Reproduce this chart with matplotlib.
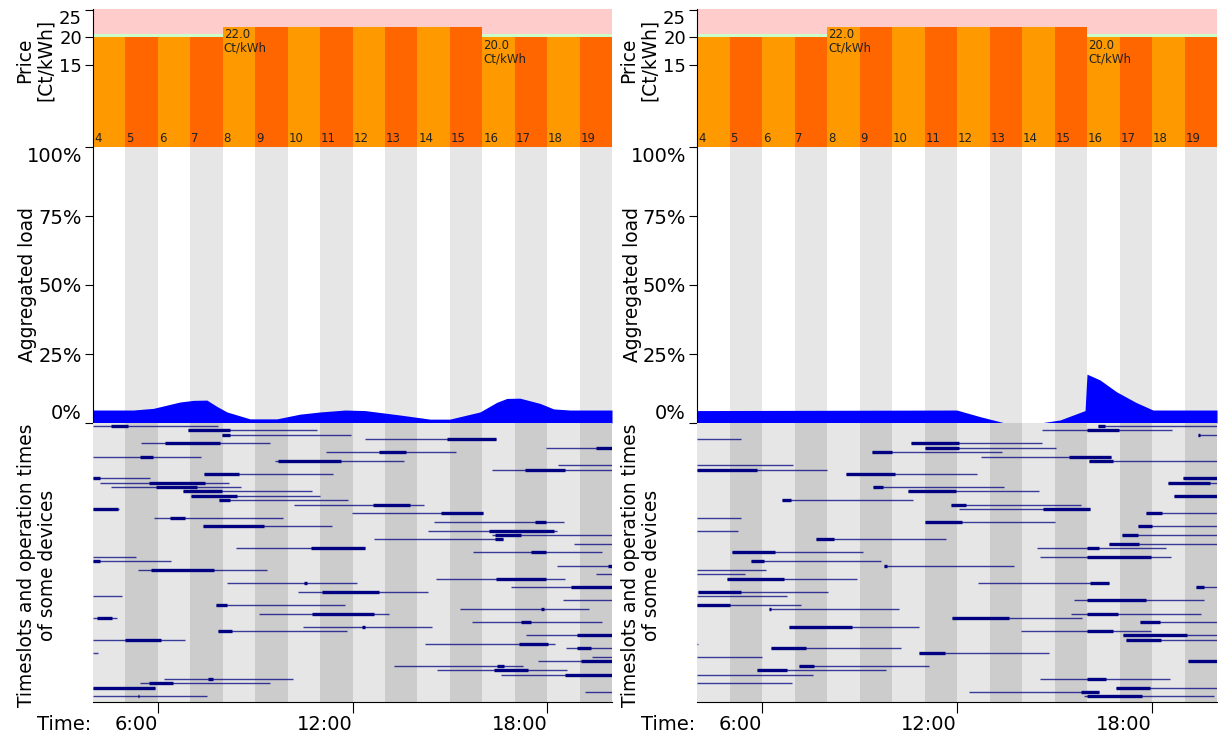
import matplotlib.pyplot as plt

# hourly price slots (same tariff in both scenarios)
slot_hours = list(range(4, 20))
price_ct = [20, 20, 20, 20, 22, 22, 22, 22, 22, 22, 22, 22, 20, 20, 20, 20]

# aggregated load in percent (hour, %)
load_left_h = [4.0, 5.24, 5.86, 6.68, 7.09, 7.51, 7.82, 8.13, 8.84, 9.67, 10.38,
               11.0, 11.77, 12.38, 13.46, 14.39, 15.0, 15.93, 16.45, 16.76,
               17.16, 17.78, 18.2, 18.7, 20.0]
load_left = [4.7, 4.7, 5.3, 7.6, 8.2, 8.3, 6.0, 4.0, 1.5, 1.5, 3.2,
             4.0, 4.7, 4.5, 2.9, 1.4, 1.4, 4.0, 7.5, 8.9,
             9.0, 7.1, 5.1, 4.7, 4.7]

load_right_h = [4.0, 8.0, 11.99, 12.71, 13.48, 14.55, 15.17, 15.94, 16.0,
                16.4, 16.91, 17.5, 18.03, 20.0]
load_right = [4.5, 4.6, 4.7, 2.3, 0.0, 0.0, 1.1, 4.5, 17.7,
              15.6, 11.3, 7.5, 4.7, 4.7]

# devices: (row, window start, window end, run start, run end)
devices_left = [
    (0, 4.00, 7.86, 4.55, 5.07), (1, 6.94, 10.92, 6.94, 8.22),
    (2, 7.97, 11.96, 7.97, 8.22), (3, 12.38, 16.41, 14.92, 16.41),
    (4, 5.47, 9.46, 6.21, 7.93), (5, 17.95, 20.0, 19.51, 20.0),
    (6, 11.19, 15.19, 12.81, 13.65), (7, 4.00, 7.33, 5.44, 5.84),
    (8, 9.60, 13.59, 9.70, 11.66), (9, 18.35, 20.0, None, None),
    (10, 16.29, 20.0, 17.31, 18.54), (11, 7.41, 11.40, 7.41, 8.51),
    (12, 4.00, 5.77, 4.00, 4.23), (13, 4.21, 8.20, 5.74, 7.46),
    (14, 4.57, 8.56, 5.94, 7.21), (15, 6.77, 10.76, 6.77, 7.99),
    (16, 7.01, 11.00, 7.01, 8.43), (17, 7.87, 11.86, 7.87, 8.22),
    (18, 10.19, 14.19, 12.62, 13.76), (19, 4.00, 4.79, 4.00, 4.77),
    (20, 11.99, 16.01, 14.72, 16.01), (21, 5.87, 9.85, 6.36, 6.84),
    (22, 14.52, 18.51, 17.64, 17.97), (23, 7.38, 11.37, 7.38, 9.26),
    (24, 14.32, 18.30, 16.21, 18.20), (25, 16.29, 20.0, 16.38, 17.21),
    (26, 12.67, 16.65, 16.38, 16.65), (27, 18.84, 20.0, None, None),
    (28, 8.40, 12.37, 10.73, 12.37), (29, 15.71, 19.70, 17.50, 17.97),
    (30, 4.00, 5.34, None, None), (31, 4.00, 6.40, 4.00, 4.23),
    (32, 18.31, 20.0, 19.87, 20.0), (33, 5.38, 9.37, 5.78, 7.72),
    (34, 19.50, 20.0, None, None), (35, 14.56, 18.54, 16.41, 17.95),
    (36, 8.14, 12.13, 10.50, 10.59), (37, 16.88, 20.0, 18.75, 20.0),
    (38, 10.33, 14.32, 11.07, 12.81), (39, 4.00, 4.88, None, None),
    (40, 18.50, 20.0, None, None), (41, 7.78, 11.76, 7.78, 8.14),
    (42, 15.31, 19.30, 17.81, 17.90), (43, 9.13, 13.11, 10.76, 12.67),
    (44, 4.00, 4.73, 4.11, 4.60), (45, 15.67, 19.68, 17.21, 17.50),
    (46, 10.47, 14.46, 12.30, 12.38), (47, 7.84, 11.82, 7.84, 8.30),
    (48, 17.34, 20.0, 18.93, 20.0), (49, 4.00, 6.84, 4.98, 6.11),
    (50, 14.25, 18.23, 17.12, 18.04), (51, 18.57, 20.0, 18.91, 19.34),
    (52, 4.00, 4.15, None, None), (53, 19.39, 20.0, None, None),
    (54, 17.71, 20.0, 19.04, 20.0), (55, 13.27, 17.26, 16.47, 16.68),
    (56, 14.62, 18.60, 16.35, 17.41), (57, 16.59, 20.0, 18.56, 20.0),
    (58, 6.19, 10.18, 7.55, 7.71), (59, 5.46, 9.45, 5.74, 6.47),
    (60, 4.00, 5.91, 4.00, 5.91), (61, 19.17, 20.0, None, None),
    (62, 4.00, 7.50, 5.39, 5.43),
]

devices_right = [
    (0, 16.34, 20.0, 16.34, 16.55), (1, 14.60, 18.62, 16.00, 16.98),
    (2, 19.42, 20.0, 19.42, 19.47), (3, 4.00, 5.35, None, None),
    (4, 10.59, 14.60, 10.59, 12.07), (5, 11.03, 15.04, 11.03, 12.07),
    (6, 9.37, 13.37, 9.37, 10.00), (7, 12.74, 16.74, 15.46, 16.74),
    (8, 16.05, 20.0, 16.05, 16.80), (9, 4.00, 6.96, None, None),
    (10, 4.00, 8.00, 4.00, 5.84), (11, 8.59, 12.61, 8.59, 10.10),
    (12, 18.94, 20.0, 18.94, 20.0), (13, 18.48, 20.0, 18.48, 19.79),
    (14, 9.42, 13.44, 9.42, 9.73), (15, 10.50, 14.51, 10.50, 11.98),
    (16, 18.67, 20.0, 18.67, 20.0), (17, 6.63, 10.64, 6.63, 6.89),
    (18, 11.80, 15.81, 11.80, 12.27), (19, 12.07, 16.08, 14.66, 16.08),
    (20, 17.81, 20.0, 17.81, 18.31), (21, 4.00, 5.35, None, None),
    (22, 11.01, 15.01, 11.01, 12.16), (23, 17.57, 20.0, 17.57, 18.00),
    (24, 4.00, 5.26, None, None), (25, 17.07, 20.0, 17.07, 17.58),
    (26, 7.67, 11.66, 7.67, 8.20), (27, 16.67, 20.0, 16.67, 17.60),
    (28, 14.45, 18.43, 16.00, 16.37), (29, 5.09, 9.10, 5.09, 6.39),
    (30, 14.56, 18.57, 16.00, 17.98), (31, 5.66, 9.66, 5.66, 6.06),
    (32, 9.76, 13.76, 9.76, 9.84), (33, 4.00, 6.13, None, None),
    (34, 4.00, 5.48, None, None), (35, 4.93, 8.92, 4.93, 6.67),
    (36, 12.64, 16.67, 16.08, 16.67), (37, 19.35, 20.0, 19.35, 19.61),
    (38, 4.02, 8.03, 4.02, 5.35), (39, 4.00, 6.77, None, None),
    (40, 15.60, 19.60, 16.00, 17.81), (41, 4.00, 7.20, 4.00, 5.00),
    (42, 6.20, 10.20, 6.20, 6.28), (43, 15.50, 19.51, 16.00, 16.94),
    (44, 11.84, 15.84, 11.84, 13.61), (45, 17.64, 20.0, 17.64, 18.24),
    (46, 6.82, 10.83, 6.82, 8.76), (47, 13.97, 17.98, 16.00, 16.80),
    (48, 17.10, 20.0, 17.10, 19.08), (49, 17.21, 20.0, 17.21, 18.28),
    (50, 4.00, 4.04, None, None), (51, 6.29, 10.29, 6.29, 7.36),
    (52, 10.84, 14.83, 10.84, 11.63), (53, 4.00, 5.99, None, None),
    (54, 19.11, 20.0, 19.11, 20.0), (55, 7.15, 11.14, 7.15, 7.60),
    (56, 5.84, 9.83, 5.84, 6.77), (57, 4.00, 7.57, None, None),
    (58, 14.56, 18.55, 16.00, 16.59), (59, 4.00, 6.91, None, None),
    (60, 16.88, 20.0, 16.88, 17.93), (61, 12.37, 16.38, 15.83, 16.38),
    (62, 15.91, 19.90, 16.00, 17.69),
]

time_ticks = [6, 12, 18]
time_labels = ['6:00', '12:00', '18:00']

W, H = 1219, 733
fig = plt.figure(figsize=(W / 100, H / 100), dpi=100)
FS = 14
LFS = 13.4


def px_axes(x0, x1, y0, y1):
    return fig.add_axes([x0 / W, 1 - y1 / H, (x1 - x0) / W, (y1 - y0) / H])


def style_left(ax, size=FS):
    for s in ['top', 'right', 'bottom']:
        ax.spines[s].set_visible(False)
    ax.spines['left'].set_linewidth(0.8)
    ax.tick_params(axis='y', direction='out', length=6, width=0.8, pad=2, labelsize=size)
    ax.set_xticks([])


def panel(x0, x1, load_h, load, devices):
    # price
    ax = px_axes(x0, x1, 9, 147)
    ax.set_facecolor('#FFCCCC')
    low = min(price_ct)
    bar_cols = ['#FF9900' if i % 2 == 0 else '#FF6600' for i in range(len(slot_hours))]
    for h, p in zip(slot_hours, price_ct):
        if p == low:
            ax.bar(h, 0.7, bottom=p, width=1, align='edge', color='#CCFFCC', lw=0)
    ax.bar(slot_hours, price_ct, width=1, align='edge', color=bar_cols, lw=0)
    for h in slot_hours:
        ax.text(h + 0.03, 0.4, str(h), fontsize=8.5, ha='left', va='bottom', color='#222222')
    # annotate each price change
    for i in range(1, len(slot_hours)):
        if price_ct[i] != price_ct[i - 1]:
            ax.text(slot_hours[i] + 0.03, price_ct[i] - 0.35, '%.1f\nCt/kWh' % price_ct[i],
                    fontsize=8.5, ha='left', va='top', color='#222222', linespacing=1.05)
    ax.set_xlim(4, 20)
    ax.set_ylim(0, 25.2)
    ax.set_yticks([15, 20, 25])
    style_left(ax, 13)
    ax.get_yticklabels()[-1].set_va('top')

    # aggregated load
    ax = px_axes(x0, x1, 147, 423)
    for i, h in enumerate(slot_hours):
        if i % 2 == 1:
            ax.axvspan(h, h + 1, color='#E6E6E6', lw=0)
    ax.fill_between(load_h, load, 0, color='#0000FF', lw=0)
    ax.set_xlim(4, 20)
    ax.set_ylim(0, 100)
    ax.set_yticks([0, 25, 50, 75, 100])
    ax.set_yticklabels(['0%', '25%', '50%', '75%', '100%'])
    style_left(ax)
    ax.get_yticklabels()[0].set_va('bottom')
    ax.get_yticklabels()[-1].set_va('top')

    # time slots of devices
    ax = px_axes(x0, x1, 423, 702)
    for i, h in enumerate(slot_hours):
        ax.axvspan(h, h + 1, color='#E6E6E6' if i % 2 == 0 else '#CCCCCC', lw=0)
    for row, ws, we, rs, re in devices:
        ax.hlines(row, ws, we, color='#000080', lw=1.0, alpha=0.75)
        if rs is not None:
            ax.hlines(row, rs, re, color='#000080', lw=2.4)
    ax.set_xlim(4, 20)
    ax.set_ylim(63.3, -0.7)
    for s in ['top', 'right', 'left']:
        ax.spines[s].set_visible(False)
    ax.spines['bottom'].set_linewidth(0.8)
    ax.set_yticks([])
    ax.set_xticks(time_ticks)
    ax.set_xticklabels(time_labels, ha='right')
    ax.tick_params(axis='x', direction='out', length=8, width=0.8, pad=1, labelsize=FS)
    ax.annotate('Time:', xy=(4, 0), xycoords=('data', 'axes fraction'),
                xytext=(-1, -9), textcoords='offset points',
                ha='right', va='top', fontsize=FS)

    # y labels
    fig.text((x0 - 58) / W, 1 - 60 / H, 'Price\n[Ct/kWh]', rotation=90,
             ha='center', va='center', fontsize=LFS, linespacing=1.1)
    fig.text((x0 - 65) / W, 1 - 285 / H, 'Aggregated load', rotation=90,
             ha='center', va='center', fontsize=LFS)
    fig.text((x0 - 56) / W, 1 - 565 / H, 'Timeslots and operation times\nof some devices',
             rotation=90, ha='center', va='center', fontsize=LFS, linespacing=1.15)


panel(93, 612, load_left_h, load_left, devices_left)
panel(697, 1217, load_right_h, load_right, devices_right)

fig.savefig('out.png', dpi=100)
